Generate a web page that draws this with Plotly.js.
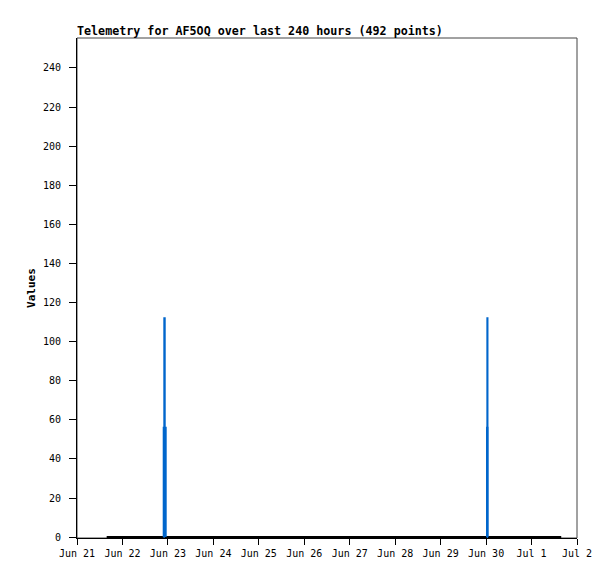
<!DOCTYPE html>
<html>
<head>
<meta charset="utf-8">
<script src="https://cdn.plot.ly/plotly-3.0.1.min.js"></script>
<style>html,body{margin:0;padding:0;background:#fff;}#chart{width:615px;height:579px;}</style>
</head>
<body>
<div id="chart"></div>
<script>
// Baseline series (black), values near zero over the 240-hour window
var baseTimes = ["2025-06-21 15:40", "2025-07-01 15:40"];
var baseValues = [0, 0];

// Spike series (blue)
var spikeTimes = [
  "2025-06-22 21:40", "2025-06-22 21:47", "2025-06-22 22:06", "2025-06-22 22:19", "2025-06-22 22:50", null,
  "2025-06-30 00:20", "2025-06-30 00:29", "2025-06-30 00:40", "2025-06-30 00:44", "2025-06-30 00:51"
];
var spikeValues = [0, 56, 112, 56, 0, null, 0, 56, 112, 56, 0];

// Axis ticks
var yTicks = [0, 20, 40, 60, 80, 100, 120, 140, 160, 180, 200, 220, 240];
var xTickVals = ["2025-06-21", "2025-06-22", "2025-06-23", "2025-06-24", "2025-06-25", "2025-06-26",
                 "2025-06-27", "2025-06-28", "2025-06-29", "2025-06-30", "2025-07-01", "2025-07-02"];
var xTickText = ["Jun 21", "Jun 22", "Jun 23", "Jun 24", "Jun 25", "Jun 26",
                 "Jun 27", "Jun 28", "Jun 29", "Jun 30", "Jul 1", "Jul 2"];

var titleText = "Telemetry for AF5OQ over last 240 hours (492 points)";
var yTitle = "Values";

var mono = "'DejaVu Sans Mono', 'Liberation Mono', monospace";

var traces = [
  {x: baseTimes, y: baseValues, type: "scatter", mode: "lines",
   line: {color: "#000000", width: 2}, hoverinfo: "skip"},
  {x: spikeTimes, y: spikeValues, type: "scatter", mode: "lines", connectgaps: false,
   line: {color: "#0066cc", width: 2, shape: "hv"}, hoverinfo: "skip"}
];

var layout = {
  width: 615, height: 579,
  margin: {l: 77, r: 38, t: 38, b: 41, pad: 0},
  paper_bgcolor: "#ffffff", plot_bgcolor: "#ffffff",
  showlegend: false,
  font: {family: mono, size: 10, color: "#000000"},
  title: {text: "<b>" + titleText + "</b>", font: {family: mono, size: 11.7, color: "#000000"},
          xref: "container", yref: "container", x: 77/615, xanchor: "left",
          y: 1 - 31/579, yanchor: "middle"},
  xaxis: {
    type: "date", range: ["2025-06-21", "2025-07-02"],
    tickmode: "array", tickvals: xTickVals, ticktext: xTickText,
    showgrid: false, zeroline: false,
    showline: true, linecolor: "#000000", linewidth: 1,
    ticks: "outside", ticklen: 6, tickcolor: "#000000", tickwidth: 1,
    tickfont: {family: mono, size: 10, color: "#000000"},
    fixedrange: true
  },
  yaxis: {
    range: [-0.45, 255.3], tickmode: "array", tickvals: yTicks,
    showgrid: false, zeroline: false,
    showline: true, linecolor: "#000000", linewidth: 1,
    ticks: "outside", ticklen: 7, tickcolor: "#000000", tickwidth: 1,
    ticklabelstandoff: 6,
    tickfont: {family: mono, size: 10, color: "#000000"},
    title: {text: "<b>" + yTitle + "</b>", font: {family: mono, size: 11, color: "#000000"}, standoff: 5},
    automargin: false,
    fixedrange: true
  },
  shapes: [
    {type: "rect", xref: "paper", yref: "paper", x0: 0, x1: 1, y0: 0, y1: 1,
     line: {color: "#444444", width: 1}, layer: "below"}
  ]
};

Plotly.newPlot("chart", traces, layout, {staticPlot: true, displayModeBar: false});
</script>
</body>
</html>
